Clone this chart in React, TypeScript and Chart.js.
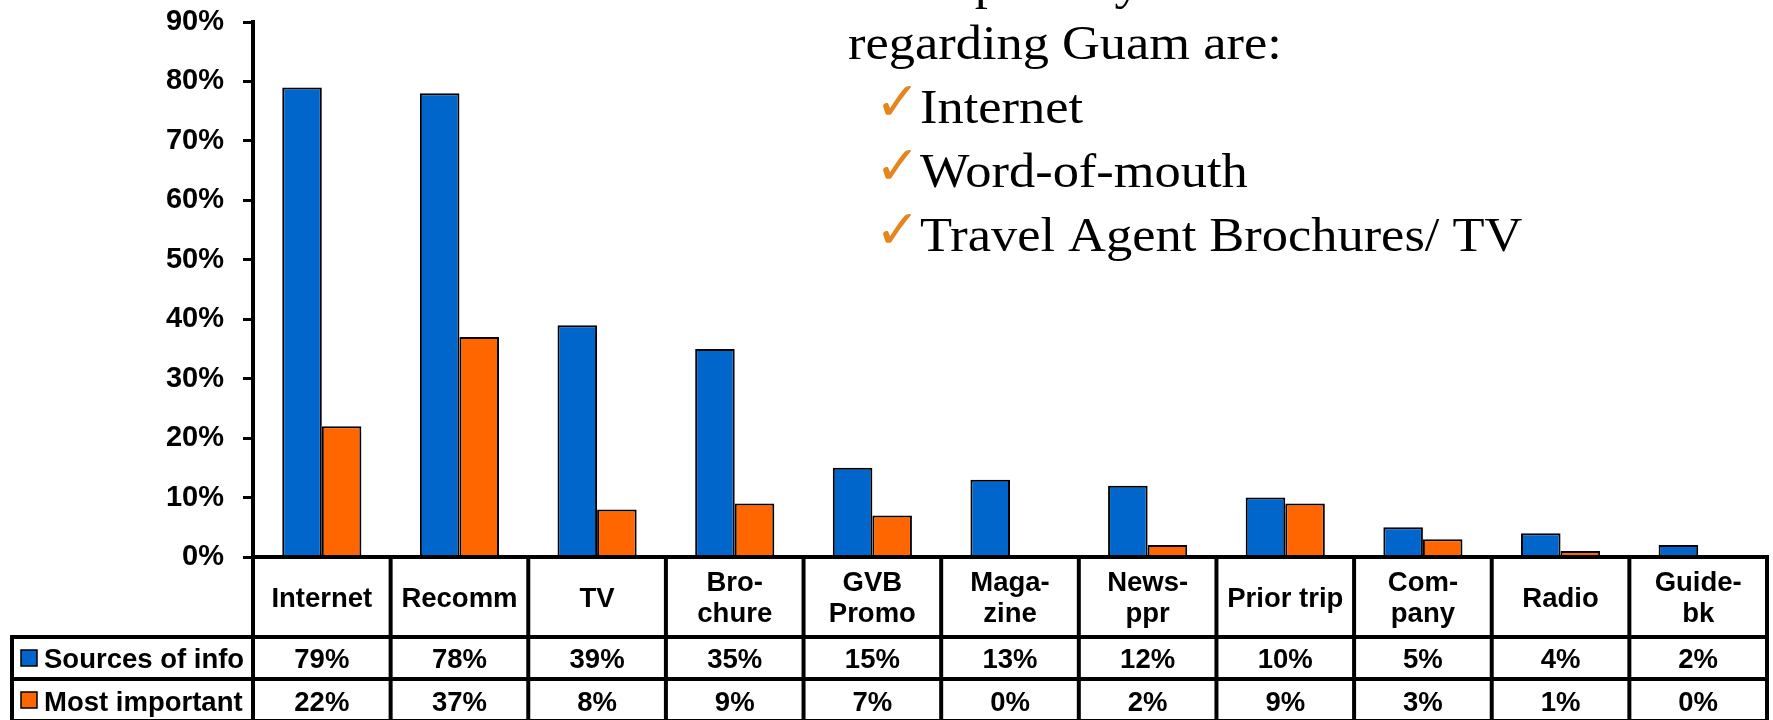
import React, { useEffect, useRef } from "react";
import { Chart, registerables } from "chart.js";

Chart.register(...registerables);

// Information sources used by visitors (percent of respondents)
const categories: string[][] = [
  ["Internet"],
  ["Recomm"],
  ["TV"],
  ["Bro-", "chure"],
  ["GVB", "Promo"],
  ["Maga-", "zine"],
  ["News-", "ppr"],
  ["Prior trip"],
  ["Com-", "pany"],
  ["Radio"],
  ["Guide-", "bk"],
];
const sourcesOfInfo = [79, 78, 39, 35, 15, 13, 12, 10, 5, 4, 2];
const mostImportant = [22, 37, 8, 9, 7, 0, 2, 9, 3, 1, 0];
const seriesNames = ["Sources of info", "Most important"];
const seriesColors = ["#0066CC", "#FF6600"];

const headingLines = ["Their primary sources of information", "regarding Guam are:"];
const bulletItems = ["Internet", "Word-of-mouth", "Travel Agent Brochures/ TV"];

const W = 1773;
const H = 720;
const SANS = '"Liberation Sans", Arial, sans-serif';
const SERIF = '"Liberation Serif", "Times New Roman", serif';

// Draws the data table under the bars and the summary text block.
const tablePlugin = {
  id: "dataTable",
  afterDraw(chart: any) {
    const { ctx, chartArea: ca } = chart;
    const xs = chart.scales.x;
    const n = categories.length;
    const colW = (ca.right - ca.left) / n;
    const top = ca.bottom;
    const headerBottom = top + 80;
    const row1Bottom = headerBottom + 42;
    const row2Bottom = row1Bottom + 42;
    const legendLeft = 12;

    ctx.save();
    ctx.strokeStyle = "#000";
    ctx.lineWidth = 4;
    ctx.lineCap = "square";

    const line = (x1: number, y1: number, x2: number, y2: number) => {
      ctx.beginPath();
      ctx.moveTo(x1, y1);
      ctx.lineTo(x2, y2);
      ctx.stroke();
    };

    // horizontal rules
    line(ca.left, top, ca.right, top);
    line(legendLeft, headerBottom, ca.right, headerBottom);
    line(legendLeft, row1Bottom, ca.right, row1Bottom);
    line(legendLeft, row2Bottom, ca.right, row2Bottom);
    // vertical rules
    for (let k = 0; k <= n; k++) {
      const x = ca.left + k * colW;
      line(x, top, x, row2Bottom);
    }
    line(legendLeft, headerBottom, legendLeft, row2Bottom);

    // category header
    ctx.fillStyle = "#000";
    ctx.textAlign = "center";
    ctx.textBaseline = "alphabetic";
    ctx.font = `bold 27.5px ${SANS}`;
    categories.forEach((lines, i) => {
      const cx = xs.getPixelForValue(i);
      if (lines.length === 1) {
        ctx.fillText(lines[0], cx, top + 50);
      } else {
        ctx.fillText(lines[0], cx, top + 34);
        ctx.fillText(lines[1], cx, top + 65);
      }
    });

    // value rows with legend keys
    const rows = [sourcesOfInfo, mostImportant];
    const rowBase = [headerBottom + 31, row1Bottom + 32];
    const rowMid = [(headerBottom + row1Bottom) / 2, (row1Bottom + row2Bottom) / 2];
    rows.forEach((vals, r) => {
      ctx.textAlign = "center";
      vals.forEach((v, i) => {
        ctx.fillText(`${v}%`, xs.getPixelForValue(i), rowBase[r]);
      });
      // legend key
      ctx.fillStyle = seriesColors[r];
      ctx.fillRect(21, rowMid[r] - 8, 16, 16);
      ctx.lineWidth = 1.5;
      ctx.strokeRect(21, rowMid[r] - 8, 16, 16);
      ctx.fillStyle = "#000";
      ctx.textAlign = "left";
      ctx.fillText(seriesNames[r], 44, rowBase[r]);
    });

    // summary text block
    const stretched = (text: string, x: number, y: number) => {
      ctx.save();
      ctx.translate(x, y);
      ctx.scale(1.07, 1);
      ctx.fillText(text, 0, 0);
      ctx.restore();
    };
    ctx.textAlign = "left";
    ctx.font = `49px ${SERIF}`;
    ctx.fillStyle = "#000";
    stretched(headingLines[0], 848, -1);
    stretched(headingLines[1], 848, 59);
    bulletItems.forEach((item, i) => {
      const base = 123 + i * 64;
      ctx.fillStyle = "#E3861E";
      ctx.font = `bold 54px "DejaVu Sans", sans-serif`;
      ctx.fillText("\u2713", 875, base - 3);
      ctx.fillStyle = "#000";
      ctx.font = `49px ${SERIF}`;
      stretched(item, 920, base);
    });

    ctx.restore();
  },
};

export default function App() {
  const canvasRef = useRef<HTMLCanvasElement | null>(null);

  useEffect(() => {
    const canvas = canvasRef.current;
    if (!canvas) return;
    const chart = new Chart(canvas, {
      type: "bar",
      data: {
        labels: categories,
        datasets: [
          {
            label: seriesNames[0],
            data: sourcesOfInfo,
            backgroundColor: seriesColors[0],
            borderColor: "#000",
            borderWidth: 2,
            categoryPercentage: 0.575,
            barPercentage: 1,
          },
          {
            label: seriesNames[1],
            data: mostImportant,
            backgroundColor: seriesColors[1],
            borderColor: "#000",
            borderWidth: 2,
            categoryPercentage: 0.575,
            barPercentage: 1,
          },
        ],
      },
      options: {
        responsive: false,
        animation: false,
        devicePixelRatio: 1,
        layout: { padding: { left: 0, right: 6, top: 22, bottom: 163 } },
        plugins: {
          legend: { display: false },
          tooltip: { enabled: false },
        },
        scales: {
          x: { display: false },
          y: {
            min: 0,
            max: 90,
            ticks: {
              stepSize: 10,
              padding: 19,
              color: "#000",
              font: { family: SANS, weight: "bold", size: 29 },
              callback: (v: any) => `${v}%`,
            },
            grid: {
              display: true,
              drawOnChartArea: false,
              drawTicks: true,
              tickLength: 10,
              color: "#000",
              lineWidth: 3,
            },
            border: { display: true, color: "#000", width: 4 },
            afterFit: (scale: any) => {
              scale.width = 253;
              scale.paddingTop = 0;
              scale.paddingBottom = 0;
            },
          },
        },
      },
      plugins: [tablePlugin],
    } as any);
    return () => chart.destroy();
  }, []);

  return (
    <div style={{ position: "absolute", left: 0, top: 0, width: W, height: H, background: "#fff" }}>
      <canvas ref={canvasRef} width={W} height={H} style={{ display: "block" }} />
    </div>
  );
}
